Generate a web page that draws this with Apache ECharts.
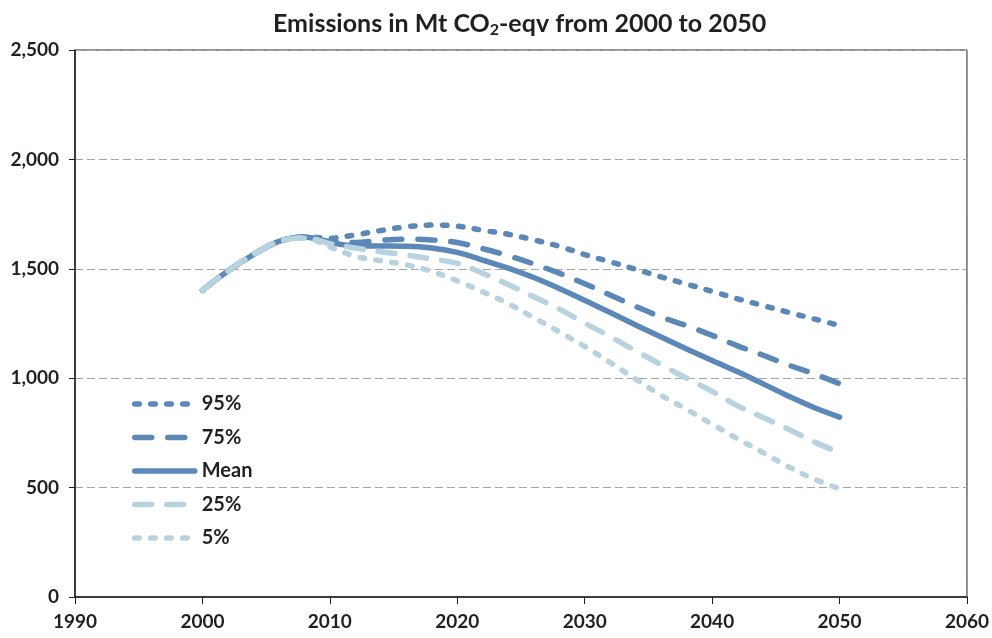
<!DOCTYPE html>
<html>
<head>
<meta charset="utf-8">
<script src="https://cdn.jsdelivr.net/npm/echarts@6/dist/echarts.min.js"></script>
<style>
html,body{margin:0;padding:0;background:#fff;}
#chart{width:992px;height:638px;}
</style>
</head>
<body>
<div id="chart"></div>
<script>
const years = [2000, 2002, 2004, 2006, 2008, 2010, 2012, 2014, 2016, 2018, 2020, 2022, 2024, 2026, 2028, 2030, 2032, 2034, 2036, 2038, 2040, 2042, 2044, 2046, 2048, 2050];
const p95  = [1402, 1490, 1565, 1625, 1645, 1640, 1655, 1675, 1692, 1700, 1695, 1676, 1658, 1632, 1603, 1565, 1532, 1498, 1463, 1430, 1397, 1363, 1332, 1301, 1271, 1241];
const p75  = [1402, 1490, 1565, 1625, 1645, 1625, 1620, 1630, 1635, 1632, 1620, 1592, 1560, 1522, 1480, 1432, 1380, 1328, 1280, 1240, 1196, 1148, 1105, 1060, 1020, 975];
const mean = [1402, 1490, 1565, 1625, 1645, 1620, 1605, 1604, 1603, 1595, 1575, 1540, 1503, 1460, 1410, 1356, 1300, 1243, 1188, 1134, 1081, 1029, 974, 918, 866, 822];
const p25  = [1402, 1490, 1565, 1625, 1642, 1615, 1595, 1578, 1563, 1545, 1525, 1480, 1428, 1372, 1316, 1252, 1190, 1125, 1062, 1000, 940, 874, 820, 767, 709, 660];
const p5   = [1402, 1490, 1565, 1625, 1640, 1600, 1557, 1537, 1518, 1488, 1445, 1395, 1341, 1277, 1212, 1145, 1072, 996, 922, 858, 790, 723, 660, 595, 539, 495];
const seriesNames = ['95%', '75%', 'Mean', '25%', '5%'];
const xTicks = [1990, 2060, 10];
const yTicks = [0, 2500, 500];

const DARK = '#5b88b6';
const LIGHT = '#b9d2df';
const FONT = 'Lato';
const INK = '#231f20';

function pairs(vals) { return years.map((y, i) => [y, vals[i]]); }

function mk(name, vals, color, type) {
  return {
    name: name, type: 'line', data: pairs(vals), smooth: 0.35,
    symbol: 'none', showSymbol: false,
    itemStyle: { color: color },
    lineStyle: { color: color, width: 5.5, type: type, cap: 'round', join: 'round' }
  };
}

const chart = echarts.init(document.getElementById('chart'), null, { renderer: 'canvas' });
chart.setOption({
  animation: false,
  backgroundColor: '#fff',
  title: {
    text: 'Emissions in Mt CO{sub|2}-eqv from 2000 to 2050',
    left: 268, top: 5,
    textStyle: {
      fontFamily: FONT, fontSize: 25, fontWeight: 'bold', color: INK, lineHeight: 28,
      rich: { sub: { fontFamily: FONT, fontSize: 16, fontWeight: 'bold', color: INK, verticalAlign: 'bottom', lineHeight: 16 } }
    }
  },
  grid: { left: 75, right: 22, top: 50, bottom: 41, show: true, borderColor: INK, borderWidth: 1 },
  legend: {
    orient: 'vertical', left: 127, top: 389, itemWidth: 60, itemHeight: 14, itemGap: 13.5,
    itemStyle: { opacity: 0 },
    lineStyle: { width: 5.5 },
    textStyle: { fontFamily: FONT, fontSize: 20, fontWeight: 'bold', color: INK, padding: [0, 0, 0, 2] },
    data: seriesNames
  },
  xAxis: {
    type: 'value', min: xTicks[0], max: xTicks[1], interval: xTicks[2],
    axisLine: { show: true, lineStyle: { color: INK, width: 1.5 } },
    axisTick: { show: true, length: 7, lineStyle: { color: INK } },
    axisLabel: { formatter: v => String(v), fontFamily: FONT, fontSize: 19, fontWeight: 'bold', color: INK, margin: 15 },
    splitLine: { show: false }
  },
  yAxis: {
    type: 'value', min: yTicks[0], max: yTicks[1], interval: yTicks[2],
    axisLine: { show: true, lineStyle: { color: INK, width: 1.5 } },
    axisTick: { show: true, length: 6, lineStyle: { color: INK } },
    axisLabel: { formatter: v => v.toLocaleString('en-US'), fontFamily: FONT, fontSize: 19, fontWeight: 'bold', color: INK, margin: 16 },
    splitLine: { show: true, lineStyle: { color: '#a6a6a6', width: 1, type: [8, 4] } }
  },
  series: [
    mk(seriesNames[0], p95, DARK, [4.5, 11.5]),
    mk(seriesNames[1], p75, DARK, [17, 16]),
    mk(seriesNames[2], mean, DARK, 'solid'),
    mk(seriesNames[3], p25, LIGHT, [17, 15]),
    mk(seriesNames[4], p5, LIGHT, [4.5, 11.5])
  ]
});
</script>
</body>
</html>
